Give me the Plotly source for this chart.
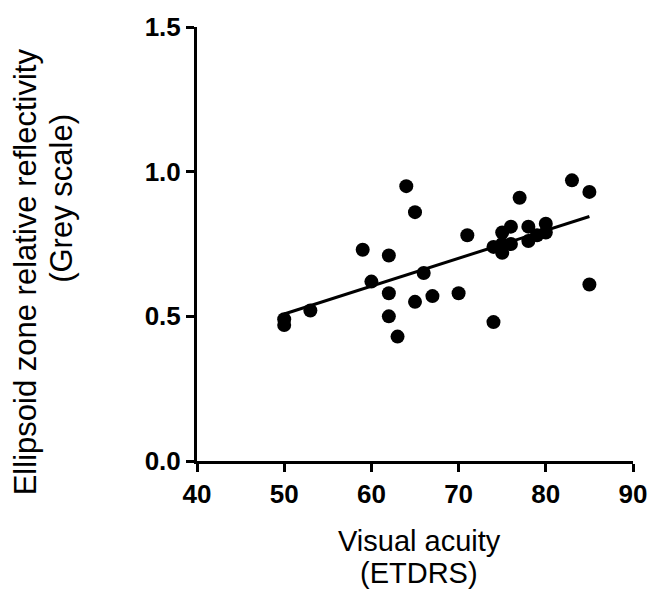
import numpy as np
import plotly.graph_objects as go

# Data
visual_acuity = [50, 50, 53, 59, 60, 62, 62, 62, 63, 64, 65, 65, 66, 67, 70, 71,
                 74, 74, 75, 75, 75, 76, 76, 77, 78, 78, 79, 80, 80, 83, 85, 85]
reflectivity = [0.49, 0.47, 0.52, 0.73, 0.62, 0.71, 0.58, 0.50, 0.43, 0.95, 0.86, 0.55, 0.65, 0.57, 0.58, 0.78,
                0.48, 0.74, 0.79, 0.72, 0.75, 0.81, 0.75, 0.91, 0.81, 0.76, 0.78, 0.82, 0.79, 0.97, 0.93, 0.61]
x_ticks = [40, 50, 60, 70, 80, 90]
y_ticks = [0.0, 0.5, 1.0, 1.5]
y_tick_text = ["0.0", "0.5", "1.0", "1.5"]

slope, intercept = np.polyfit(visual_acuity, reflectivity, 1)
fit_x = [min(visual_acuity), max(visual_acuity)]
fit_y = [slope * v + intercept for v in fit_x]

fig = go.Figure()
fig.add_trace(go.Scatter(x=fit_x, y=fit_y, mode="lines",
                         line=dict(color="black", width=3), showlegend=False))
fig.add_trace(go.Scatter(x=visual_acuity, y=reflectivity, mode="markers",
                         marker=dict(color="black", size=14), showlegend=False))

L, T, W, H = 197, 24, 436, 437
tick_font = dict(size=26, family="Liberation Sans, Arial", weight="bold", color="black")
fig.update_layout(
    width=662, height=592,
    margin=dict(l=L, r=662 - L - W, t=T, b=592 - T - H),
    plot_bgcolor="white", paper_bgcolor="white",
    font=dict(family="Liberation Sans, Arial, sans-serif", color="black"),
    xaxis=dict(range=[40, 90], tickvals=x_ticks, showgrid=False, zeroline=False,
               showline=True, linecolor="black", linewidth=3,
               ticks="outside", ticklen=8, tickwidth=3, tickcolor="black",
               tickfont=tick_font),
    yaxis=dict(range=[0, 1.5], tickvals=y_ticks, ticktext=y_tick_text, showgrid=False, zeroline=False,
               showline=True, linecolor="black", linewidth=3,
               ticks="outside", ticklen=8, tickwidth=3, tickcolor="black",
               tickfont=tick_font),
)

def px(xp):
    return (xp - L) / W

def py(yp):
    return (T + H - yp) / H

title_font = dict(size=29, family="Liberation Sans, Arial", color="black")
fig.add_annotation(text="Visual acuity", x=px(419), y=py(542), xref="paper", yref="paper",
                   showarrow=False, font=title_font, xanchor="center", yanchor="middle")
fig.add_annotation(text="(ETDRS)", x=px(419), y=py(574), xref="paper", yref="paper",
                   showarrow=False, font=title_font, xanchor="center", yanchor="middle")
y_title_font = dict(size=31, family="Liberation Sans, Arial", color="black")
fig.add_annotation(text="Ellipsoid zone relative reflectivity", x=px(25), y=py(271), xref="paper", yref="paper",
                   showarrow=False, font=y_title_font, textangle=-90, xanchor="center", yanchor="middle")
fig.add_annotation(text="(Grey scale)", x=px(62), y=py(197), xref="paper", yref="paper",
                   showarrow=False, font=y_title_font, textangle=-90, xanchor="center", yanchor="middle")

fig.write_html("out.html", config={"displayModeBar": False},
               post_script="document.body.style.margin='0';document.body.style.overflow='hidden';")
